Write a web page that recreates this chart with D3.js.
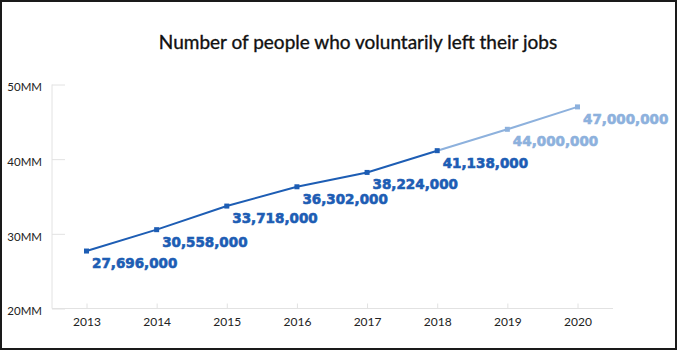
<!DOCTYPE html>
<html><head><meta charset="utf-8">
<script src="https://cdn.jsdelivr.net/npm/d3@7"></script>
<style>html,body{margin:0;padding:0;background:#fff}</style>
</head><body>
<svg id="c" width="680" height="352"></svg>
<script>
const years = [2013, 2014, 2015, 2016, 2017, 2018, 2019, 2020];
const values = [27696000, 30558000, 33718000, 36302000, 38224000, 41138000, 44000000, 47000000];
const projected = [false, false, false, false, false, false, true, true];
const yTicks = [20000000, 30000000, 40000000, 50000000];
const yTickLabels = ["20MM", "30MM", "40MM", "50MM"];
const title = "Number of people who voluntarily left their jobs";

const dark = "#1d5db4", light = "#8db1dd";
const svg = d3.select("#c");

svg.append("rect").attr("x", 1).attr("y", 1).attr("width", 675).attr("height", 348)
  .attr("fill", "#fff").attr("stroke", "#1a1a1a").attr("stroke-width", 2);

svg.append("text").attr("x", 358).attr("y", 49).attr("text-anchor", "middle")
  .attr("font-family", "Lato, sans-serif").attr("font-size", 19).attr("fill", "#111")
  .attr("stroke", "#111").attr("stroke-width", 0.35)
  .text(title);

const x = d3.scalePoint().domain(years).range([86.5, 577.5]);
const y = d3.scaleLinear().domain([20000000, 50000000]).range([308.5, 84.5]);

// axes
const axisColor = "#e2e2e2";
const gx = svg.append("g").attr("transform", "translate(0,308.5)");
gx.append("line").attr("x1", 52).attr("x2", 613).attr("stroke", axisColor);
gx.call(g => {
  const ax = d3.axisBottom(x).tickSize(-5).tickPadding(9).tickFormat(d3.format("d"));
  const sub = g.append("g").call(ax);
  sub.select(".domain").remove();
  sub.selectAll(".tick line").attr("stroke", axisColor);
  sub.selectAll(".tick text").attr("font-family", "Lato, sans-serif").attr("font-size", 12).attr("fill", "#222");
});

const gy = svg.append("g").attr("transform", "translate(52,0)");
const ay = d3.axisLeft(y).tickValues(yTicks).tickSize(-13).tickPadding(10)
  .tickFormat((d, i) => yTickLabels[i]);
gy.call(ay);
gy.select(".domain").remove();
gy.append("line").attr("y1", 84.5).attr("y2", 308.5).attr("stroke", axisColor);
gy.selectAll(".tick line").attr("stroke", axisColor);
gy.selectAll(".tick text").attr("font-family", "Lato, sans-serif").attr("font-size", 11.5).attr("fill", "#222").attr("dy", "0.55em");

const data = years.map((yr, i) => ({yr, v: values[i], p: projected[i]}));
const line = d3.line().x(d => x(d.yr)).y(d => y(d.v));
const actual = data.filter(d => !d.p);
const proj = data.filter((d, i) => d.p || (i + 1 < data.length && data[i + 1].p));

svg.append("path").datum(proj).attr("d", line).attr("fill", "none").attr("stroke", light).attr("stroke-width", 2);
svg.append("path").datum(actual).attr("d", line).attr("fill", "none").attr("stroke", dark).attr("stroke-width", 2);

svg.selectAll("rect.m").data(data).join("rect").attr("class", "m")
  .attr("x", d => x(d.yr) - 2.5).attr("y", d => y(d.v) - 2.5).attr("width", 5).attr("height", 5)
  .attr("fill", d => d.p ? light : dark);

svg.selectAll("text.lbl").data(data).join("text").attr("class", "lbl")
  .attr("x", d => x(d.yr) + 5.5).attr("y", d => y(d.v) + 17)
  .attr("font-family", "'DejaVu Sans', sans-serif").attr("font-weight", "bold").attr("font-size", 13.5)
  .attr("fill", d => d.p ? light : dark)
  .attr("stroke", d => d.p ? light : dark).attr("stroke-width", 0.6)
  .text(d => d3.format(",")(d.v));
</script>
</body></html>
